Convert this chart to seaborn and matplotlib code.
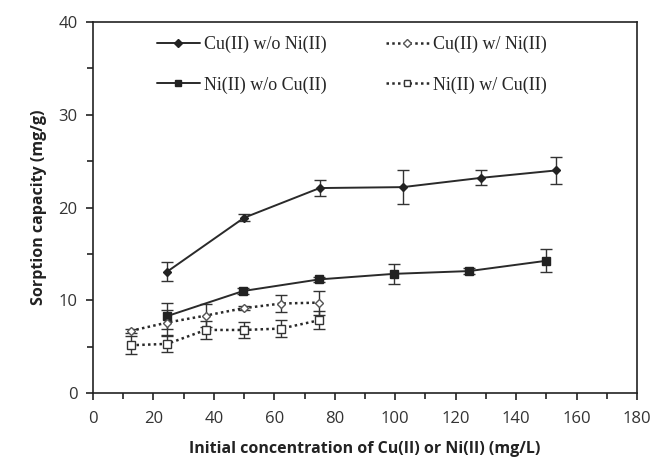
import numpy as np
import pandas as pd
import matplotlib
matplotlib.use("Agg")
import matplotlib.pyplot as plt
import seaborn as sns
from matplotlib.ticker import MultipleLocator

# Data
cu_wo_x = [24.6, 50.0, 75.0, 102.5, 128.4, 153.2]
cu_wo_y = [13.1, 18.9, 22.1, 22.2, 23.2, 24.0]
cu_wo_e = [1.05, 0.4, 0.9, 1.8, 0.8, 1.5]

ni_wo_x = [24.6, 49.7, 74.8, 99.6, 124.5, 149.8]
ni_wo_y = [8.3, 11.0, 12.25, 12.85, 13.15, 14.25]
ni_wo_e = [1.45, 0.3, 0.3, 1.1, 0.3, 1.25]

cu_w_x = [12.5, 24.6, 37.3, 49.9, 62.3, 74.9]
cu_w_y = [6.7, 7.6, 8.35, 9.15, 9.65, 9.75]
cu_w_e = [0.2, 1.3, 1.2, 0.2, 0.95, 1.3]

ni_w_x = [12.5, 24.6, 37.3, 49.9, 62.3, 74.9]
ni_w_y = [5.15, 5.3, 6.8, 6.8, 6.95, 7.85]
ni_w_e = [0.95, 0.85, 1.0, 0.9, 0.95, 1.0]

labels = ["Cu(II) w/o Ni(II)", "Ni(II) w/o Cu(II)", "Cu(II) w/ Ni(II)", "Ni(II) w/ Cu(II)"]
xticks = [0, 20, 40, 60, 80, 100, 120, 140, 160, 180]
yticks = [0, 10, 20, 30, 40]

series = [
    (labels[0], cu_wo_x, cu_wo_y, cu_wo_e),
    (labels[1], ni_wo_x, ni_wo_y, ni_wo_e),
    (labels[2], cu_w_x, cu_w_y, cu_w_e),
    (labels[3], ni_w_x, ni_w_y, ni_w_e),
]
rows = []
for name, xs, ys, es in series:
    for x, y, e in zip(xs, ys, es):
        rows.append({"series": name, "x": x, "y": y, "err": e})
df = pd.DataFrame(rows)

sns.set_style("ticks")
fig = plt.figure(figsize=(6.53, 4.69), dpi=100)
ax = fig.add_axes([0.1424, 0.162, 0.8331, 0.791])

styles = {
    labels[0]: dict(ls="-", marker="D", mfc="#222222", mec="#222222", ms=4.2, lw=1.4),
    labels[1]: dict(ls="-", marker="s", mfc="#222222", mec="#222222", ms=5.5, lw=1.4),
    labels[2]: dict(ls=(0, (1, 1.3)), marker="D", mfc="white", mec="#555555", ms=4.2, lw=1.8),
    labels[3]: dict(ls=(0, (1, 1.3)), marker="s", mfc="white", mec="#333333", ms=5.5, lw=1.8),
}

for name in labels:
    sub = df[df["series"] == name]
    st = styles[name]
    sns.lineplot(data=sub, x="x", y="y", ax=ax, color="#2a2a2a", linestyle=st["ls"],
                 linewidth=st["lw"], marker=st["marker"], markersize=st["ms"],
                 markerfacecolor=st["mfc"], markeredgecolor=st["mec"], markeredgewidth=1.0,
                 label=name, errorbar=None, sort=False)
    ax.errorbar(sub["x"], sub["y"], yerr=sub["err"], fmt="none", ecolor="#333333",
                elinewidth=1.0, capsize=4, capthick=1.0, zorder=1)

ax.set_xlim(0, 180)
ax.set_ylim(0, 40)
ax.set_xticks(xticks)
ax.set_yticks(yticks)
ax.xaxis.set_minor_locator(MultipleLocator(10))
ax.yaxis.set_minor_locator(MultipleLocator(5))
ax.tick_params(axis="both", which="major", direction="out", length=5, width=1.2,
               labelsize=12, labelcolor="#333333", color="#222222")
ax.tick_params(axis="both", which="minor", direction="out", length=4, width=1.2, color="#222222")
ax.tick_params(axis="x", pad=8)
ax.tick_params(axis="y", pad=6)
for s in ax.spines.values():
    s.set_linewidth(1.2)
    s.set_color("#222222")

lab_font = dict(family="Open Sans", weight="bold", size=11.5, color="#222222")
ax.set_xlabel("Initial concentration of Cu(II) or Ni(II) (mg/L)", labelpad=10, **lab_font)
ax.set_ylabel("Sorption capacity (mg/g)", labelpad=8, **lab_font)
for t in ax.get_xticklabels() + ax.get_yticklabels():
    t.set_family("Open Sans")

leg = ax.legend(loc="upper left", bbox_to_anchor=(0.117, 0.963), ncol=2, frameon=False,
                prop={"family": "Liberation Serif", "size": 13}, handlelength=2.4,
                handletextpad=0.2, columnspacing=3.3, labelspacing=1.3,
                borderaxespad=0.0, borderpad=0.0, markerscale=0.9)

fig.savefig("out.png", dpi=100)
